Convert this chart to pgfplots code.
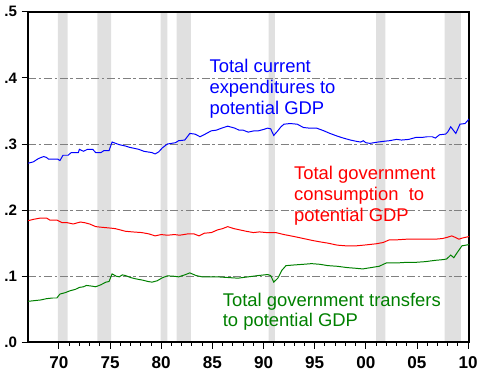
\documentclass[border=0pt]{standalone}
\usepackage{pgfplots}
\pgfplotsset{compat=1.18}
\usepackage{fontspec}
\setmainfont{Liberation Sans}
\definecolor{band}{RGB}{224,224,224}
\definecolor{dgreen}{RGB}{0,128,0}
\begin{document}
\begin{tikzpicture}
\begin{axis}[
  set layers,
  scale only axis,
  width=335.25pt, height=251.25pt,
  xmin=1967, xmax=2010.1,
  ymin=0, ymax=0.5,
  axis line style={line width=1.5pt},
  tick pos=left,
  tick align=outside,
  xtick={1970,1975,...,2010},
  xticklabels={70,75,80,85,90,95,00,05,10},
  minor x tick num=4,
  ytick={0,0.1,0.2,0.3,0.4,0.5},
  yticklabels={.0,.1,.2,.3,.4,.5},
  major tick length=5pt,
  minor tick length=2.8pt,
  tick style={black, line width=0.7pt},
  xticklabel style={font=\fontsize{13}{13}\selectfont\bfseries, yshift=-2.5pt},
  yticklabel style={font=\fontsize{11.5}{11.5}\selectfont\bfseries},
  /pgf/number format/assume math mode=true,
  ymajorgrids,
  major grid style={gray, line width=0.6pt, dash pattern=on 6pt off 2pt on 2pt off 2pt},
  clip=true,
]
% recession bands
\addplot[on layer=axis background, fill=band, draw=none] coordinates {(1969.9,0)(1969.9,0.5)(1970.85,0.5)(1970.85,0)} \closedcycle;
\addplot[on layer=axis background, fill=band, draw=none] coordinates {(1973.75,0)(1973.75,0.5)(1975.1,0.5)(1975.1,0)} \closedcycle;
\addplot[on layer=axis background, fill=band, draw=none] coordinates {(1979.95,0)(1979.95,0.5)(1980.6,0.5)(1980.6,0)} \closedcycle;
\addplot[on layer=axis background, fill=band, draw=none] coordinates {(1981.5,0)(1981.5,0.5)(1982.9,0.5)(1982.9,0)} \closedcycle;
\addplot[on layer=axis background, fill=band, draw=none] coordinates {(1990.5,0)(1990.5,0.5)(1991.1,0.5)(1991.1,0)} \closedcycle;
\addplot[on layer=axis background, fill=band, draw=none] coordinates {(2001.0,0)(2001.0,0.5)(2001.9,0.5)(2001.9,0)} \closedcycle;
\addplot[on layer=axis background, fill=band, draw=none] coordinates {(2007.7,0)(2007.7,0.5)(2009.3,0.5)(2009.3,0)} \closedcycle;
% total current expenditures
\addplot[blue, line width=0.75pt, mark=none] coordinates {
(1967.0,0.271)(1967.5,0.273)(1968.0,0.278)(1968.5,0.281)(1968.75,0.280)(1969.0,0.277)
(1969.5,0.277)(1969.9,0.277)(1970.1,0.275)(1970.4,0.283)(1970.9,0.283)(1971.2,0.287)
(1971.9,0.287)(1972.0,0.292)(1972.4,0.289)(1972.8,0.292)(1973.3,0.292)(1973.6,0.287)
(1974.1,0.287)(1974.4,0.290)(1974.9,0.290)(1975.2,0.303)(1975.9,0.299)(1976.5,0.297)
(1976.9,0.295)(1977.8,0.292)(1978.3,0.289)(1979.1,0.287)(1979.4,0.285)(1979.75,0.288)
(1980.1,0.294)(1980.6,0.300)(1981.4,0.302)(1981.7,0.305)(1982.3,0.306)(1982.8,0.316)
(1983.3,0.315)(1983.8,0.311)(1984.3,0.315)(1984.9,0.320)(1985.4,0.321)(1985.9,0.324)
(1986.5,0.327)(1987.2,0.324)(1987.6,0.321)(1988.0,0.321)(1988.5,0.318)(1989.1,0.320)
(1989.5,0.320)(1990.0,0.322)(1990.4,0.324)(1990.7,0.323)(1991.0,0.313)(1991.4,0.320)
(1991.7,0.326)(1992.0,0.330)(1992.6,0.331)(1993.3,0.330)(1993.9,0.325)(1994.5,0.324)
(1995.2,0.324)(1995.9,0.320)(1996.5,0.316)(1997.2,0.312)(1997.8,0.309)(1998.5,0.306)
(1999.1,0.304)(1999.5,0.303)(1999.75,0.305)(2000.0,0.302)(2000.4,0.301)(2000.8,0.302)
(2001.2,0.303)(2001.7,0.304)(2002.3,0.305)(2003.0,0.307)(2003.5,0.306)(2004.2,0.307)
(2004.9,0.310)(2005.5,0.310)(2006.0,0.311)(2006.5,0.311)(2006.8,0.309)(2007.2,0.314)
(2007.8,0.315)(2008.0,0.318)(2008.3,0.326)(2008.6,0.320)(2008.8,0.316)(2009.2,0.330)
(2009.7,0.331)(2010.1,0.338)
};
% total government consumption
\addplot[red, line width=0.75pt, mark=none] coordinates {
(1967.0,0.184)(1967.5,0.186)(1968.2,0.188)(1968.8,0.188)(1969.1,0.185)(1969.8,0.185)
(1970.3,0.181)(1970.8,0.181)(1971.4,0.179)(1972.1,0.182)(1972.5,0.181)(1973.0,0.179)
(1973.6,0.175)(1974.2,0.174)(1974.9,0.173)(1975.5,0.172)(1976.0,0.170)(1976.5,0.168)
(1977.2,0.167)(1978.1,0.166)(1978.8,0.164)(1979.4,0.161)(1980.0,0.163)(1980.6,0.162)
(1981.3,0.163)(1981.8,0.162)(1982.6,0.164)(1983.2,0.164)(1983.7,0.161)(1984.2,0.165)
(1984.9,0.166)(1985.5,0.170)(1986.0,0.172)(1986.5,0.175)(1987.1,0.172)(1987.7,0.170)
(1988.3,0.168)(1989.0,0.166)(1989.6,0.167)(1990.3,0.166)(1990.7,0.166)(1991.2,0.166)
(1992.0,0.163)(1993.0,0.160)(1993.9,0.157)(1994.8,0.154)(1995.5,0.152)(1996.3,0.150)
(1997.2,0.147)(1998.0,0.146)(1999.1,0.146)(1999.8,0.147)(2001.0,0.149)(2001.7,0.151)
(2002.3,0.155)(2003.0,0.155)(2004.0,0.156)(2004.9,0.156)(2005.8,0.156)(2006.8,0.156)
(2007.5,0.157)(2008.0,0.159)(2008.4,0.161)(2008.7,0.159)(2009.1,0.156)(2009.5,0.158)
(2010.1,0.160)
};
% total government transfers
\addplot[dgreen, line width=0.75pt, mark=none] coordinates {
(1967.0,0.062)(1967.6,0.063)(1968.2,0.064)(1968.8,0.066)(1969.4,0.067)(1969.8,0.067)
(1970.1,0.073)(1970.6,0.075)(1971.1,0.078)(1971.6,0.080)(1972.0,0.083)(1972.4,0.084)
(1972.7,0.086)(1973.2,0.085)(1973.6,0.084)(1974.1,0.087)(1974.6,0.091)(1974.9,0.092)
(1975.2,0.1035)(1975.6,0.100)(1975.9,0.099)(1976.2,0.102)(1976.5,0.101)(1977.0,0.098)
(1977.5,0.096)(1978.2,0.094)(1978.7,0.092)(1979.1,0.091)(1979.6,0.093)(1980.1,0.0975)
(1980.6,0.1005)(1981.2,0.100)(1981.7,0.099)(1982.3,0.102)(1982.8,0.105)(1983.4,0.101)
(1984.0,0.099)(1984.8,0.099)(1985.5,0.099)(1986.5,0.098)(1987.5,0.097)(1988.5,0.099)
(1989.5,0.101)(1990.4,0.1025)(1990.7,0.101)(1991.0,0.091)(1991.4,0.097)(1991.8,0.109)
(1992.2,0.116)(1993.0,0.117)(1993.9,0.118)(1994.7,0.119)(1995.5,0.118)(1996.3,0.116)
(1997.2,0.115)(1998.2,0.113)(1999.0,0.112)(1999.7,0.111)(2000.5,0.113)(2001.3,0.115)
(2002.0,0.120)(2003.0,0.120)(2004.0,0.121)(2004.9,0.121)(2005.8,0.122)(2006.8,0.124)
(2007.5,0.125)(2007.9,0.126)(2008.3,0.132)(2008.6,0.128)(2008.9,0.135)(2009.4,0.146)
(2009.8,0.147)(2010.1,0.148)
};
\node[anchor=north west, inner sep=0pt, align=left, text=blue, font=\fontsize{14}{15.75}\selectfont]
  at (axis cs:1984.7,0.4284) {Total current\\expenditures to\\potential GDP};
\node[anchor=north west, inner sep=0pt, align=left, text=red, font=\fontsize{14}{15.75}\selectfont]
  at (axis cs:1992.97,0.2667) {Total government\\consumption\ \ to\\potential GDP};
\node[anchor=north west, inner sep=0pt, align=left, text=dgreen, font=\fontsize{14}{15.75}\selectfont]
  at (axis cs:1986.0,0.0751) {Total government transfers\\to potential GDP};
\end{axis}
\path (-21pt,-24pt) rectangle (340.5pt,260.25pt);
\end{tikzpicture}
\end{document}
